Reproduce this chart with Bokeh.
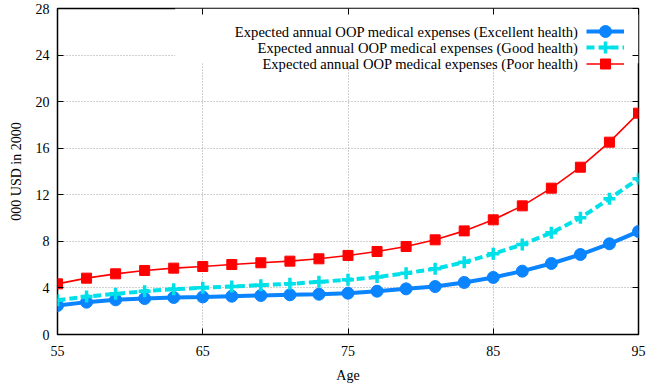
from bokeh.plotting import figure
from bokeh.models import (Range1d, FixedTicker, LinearAxis, Legend, LegendItem, Label,
                          BoxAnnotation, CustomJSTickFormatter)
from bokeh.core.properties import value
from bokeh.embed import file_html
from bokeh.resources import INLINE

# Expected annual out-of-pocket medical expenses (thousand USD, year 2000) by age
ages = [55, 57, 59, 61, 63, 65, 67, 69, 71, 73, 75, 77, 79, 81, 83, 85, 87, 89, 91, 93, 95]
excellent = [2.49, 2.78, 2.98, 3.09, 3.18, 3.23, 3.29, 3.35, 3.41, 3.46, 3.55,
             3.72, 3.92, 4.12, 4.47, 4.90, 5.44, 6.10, 6.87, 7.79, 8.85]
good = [2.95, 3.26, 3.49, 3.72, 3.89, 4.01, 4.12, 4.24, 4.35, 4.52, 4.70,
        4.93, 5.27, 5.64, 6.21, 6.93, 7.73, 8.73, 10.02, 11.66, 13.37]
poor = [4.35, 4.84, 5.21, 5.50, 5.70, 5.84, 6.01, 6.16, 6.30, 6.50, 6.79,
        7.13, 7.56, 8.13, 8.90, 9.85, 11.05, 12.57, 14.37, 16.52, 19.01]

series_labels = [
    "Expected annual OOP medical expenses (Excellent health)",
    "Expected annual OOP medical expenses (Good health)",
    "Expected annual OOP medical expenses (Poor health)",
]
x_ticks = [55, 65, 75, 85, 95]
y_ticks = [0, 4, 8, 12, 16, 20, 24, 28]

FONT = "Liberation Serif"
BLUE = "#0a84ff"
CYAN = "#00e0e8"
RED = "#ff0000"

p = figure(width=647, height=389, output_backend="svg", toolbar_location=None,
           x_range=Range1d(55, 95), y_range=Range1d(0, 28),
           min_border_left=57, min_border_right=9, min_border_top=8, min_border_bottom=55,
           x_axis_label="Age", y_axis_label="000 USD in 2000")
p.background_fill_color = "white"
p.border_fill_color = "white"
p.outline_line_color = "black"
p.outline_line_width = 1.5

def style_axis(ax, ticks, show_labels=True):
    ax.ticker = FixedTicker(ticks=ticks)
    ax.minor_tick_line_color = None
    ax.major_tick_in = 6
    ax.major_tick_out = 0
    ax.major_tick_line_color = "black"
    ax.major_tick_line_width = 1
    ax.axis_line_color = None
    ax.major_label_text_font = FONT
    ax.major_label_text_color = "black"
    ax.axis_label_text_font = FONT
    ax.axis_label_text_font_style = "normal"
    ax.axis_label_text_font_size = "14px"
    ax.axis_label_text_color = "black"
    if show_labels:
        ax.major_label_text_font_size = "14px"
    else:
        # mirror axis: tick marks only, empty labels
        ax.formatter = CustomJSTickFormatter(code="return ''")
        ax.major_label_text_font_size = "1px"
        ax.major_label_standoff = 0

style_axis(p.xaxis[0], x_ticks)
p.xaxis[0].major_label_standoff = 11
p.xaxis[0].axis_label_standoff = 9
style_axis(p.yaxis[0], y_ticks)
p.yaxis[0].major_label_standoff = 8
p.yaxis[0].axis_label_standoff = 9

top_axis = LinearAxis()
style_axis(top_axis, x_ticks, show_labels=False)
p.add_layout(top_axis, "above")
right_axis = LinearAxis()
style_axis(right_axis, y_ticks, show_labels=False)
p.add_layout(right_axis, "right")

p.xgrid.ticker = FixedTicker(ticks=x_ticks)
p.ygrid.ticker = FixedTicker(ticks=y_ticks)
for g in (p.xgrid[0], p.ygrid[0]):
    g.grid_line_color = "#a0a0a0"
    g.grid_line_dash = "1 2"
    g.grid_line_width = 1

# opaque key area hides the grid behind the legend text
p.add_layout(BoxAnnotation(left=63.1, right=95, bottom=23.3, top=28,
                           fill_color="white", fill_alpha=1.0, line_color=None,
                           level="underlay"))

l1 = p.line(ages, excellent, line_color=BLUE, line_width=4)
s1 = p.scatter(ages, excellent, marker="circle", size=12, fill_color=BLUE, line_color=BLUE)
l2 = p.line(ages, good, line_color=CYAN, line_width=4, line_dash="8 4")
s2 = p.scatter(ages, good, marker="cross", size=12, line_color=CYAN, line_width=3.5)
l3 = p.line(ages, poor, line_color=RED, line_width=1.6)
s3 = p.scatter(ages, poor, marker="square", size=10, fill_color=RED, line_color=RED)

# key: one sample per row (legend markers scale with the glyph box: size = 0.4 * height)
row_centers = [23.3, 39.3, 55.3]          # px below the top of the frame
frame_h = 326
for (line_r, mark_r), box_h, cy in zip([(l1, s1), (l2, s2), (l3, s3)], [30, 30, 25], row_centers):
    key = Legend(items=[LegendItem(label=value(" "), renderers=[line_r, mark_r])],
                 location=(529, frame_h - cy - box_h / 2), glyph_width=38, glyph_height=box_h,
                 label_height=box_h, label_width=0, label_standoff=0,
                 label_text_font_size="10px", spacing=0, padding=0, margin=0,
                 border_line_color=None, background_fill_alpha=0)
    p.add_layout(key, "center")

for txt, cy in zip(series_labels, row_centers):
    p.add_layout(Label(x=521, y=frame_h - cy, x_units="screen", y_units="screen",
                       text=txt, text_align="right", text_baseline="middle",
                       text_font=FONT, text_font_size="14.6px", text_color="black"))

open("out.html", "w").write(file_html(p, INLINE))
